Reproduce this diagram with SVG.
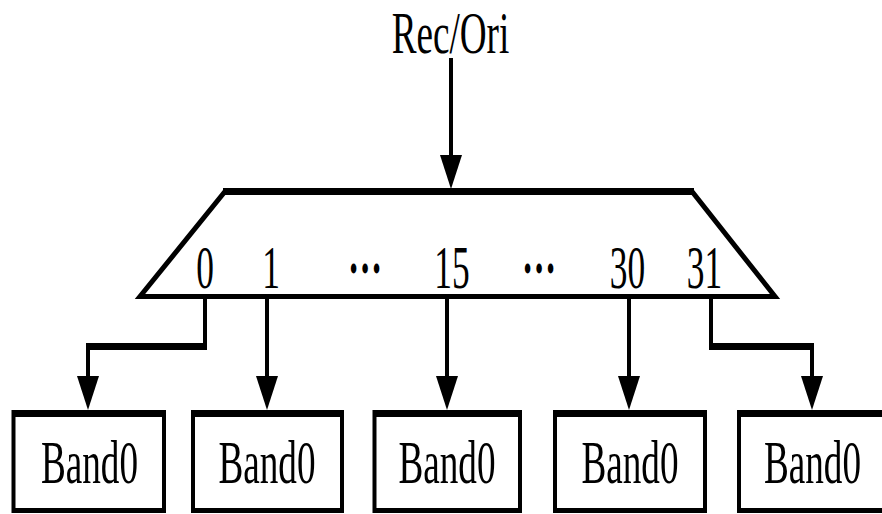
<svg xmlns="http://www.w3.org/2000/svg" width="882" height="514" viewBox="0 0 882 514">
  <style>
    .lbl { font-family: "Liberation Serif", "Times New Roman", serif; fill: #000; text-anchor: middle; }
    .big { font-size: 62px; }
    .head { font-size: 59px; }
    .num { font-size: 61px; }
    .dots { font-size: 62px; font-weight: bold; }
    .wire { fill: none; stroke: #000; stroke-width: 4; stroke-linejoin: miter; }
    .bus { fill: none; stroke: #000; stroke-width: 7; }
    .edge { fill: #000; }
    .face { fill: #fff; }
  </style>
  <defs>
    <marker id="ah" viewBox="0 -11 34 22" refX="0" refY="0" markerWidth="34" markerHeight="22" markerUnits="userSpaceOnUse" orient="auto">
      <path d="M0,-11 L34,0 L0,11 Z" fill="#000"/>
    </marker>
  </defs>

  <!-- input label -->
  <g id="input">
    <text class="lbl head" transform="translate(450.5,53) scale(0.63,1)">Rec/Ori</text>
  </g>

  <!-- demultiplexer with its 32 output ports -->
  <g id="demux">
    <polygon points="225,191.5 692,191.5 775,296.5 140,296.5" fill="#fff" stroke="#000" stroke-width="5"/>
    <line x1="223" y1="191.5" x2="694" y2="191.5" stroke="#000" stroke-width="7"/>
    <text class="lbl num" transform="translate(205,288) scale(0.58,1)">0</text>
    <text class="lbl num" transform="translate(271,288) scale(0.58,1)">1</text>
    <text class="lbl dots" transform="translate(365,273) scale(0.55,1)">…</text>
    <text class="lbl num" transform="translate(452,288) scale(0.58,1)">15</text>
    <text class="lbl dots" transform="translate(539,273) scale(0.55,1)">…</text>
    <text class="lbl num" transform="translate(627.5,288) scale(0.58,1)">30</text>
    <text class="lbl num" transform="translate(704.5,288) scale(0.58,1)">31</text>
  </g>

  <!-- band blocks: black frame with white face -->
  <g id="band-a">
    <rect class="edge" x="11.5" y="410" width="154.5" height="103"/>
    <rect class="face" x="15.5" y="417" width="146.5" height="91"/>
    <text class="lbl big" transform="translate(89.5,483) scale(0.6,1)">Band0</text>
  </g>
  <g id="band-b">
    <rect class="edge" x="191" y="410" width="153" height="103"/>
    <rect class="face" x="195" y="417" width="145" height="91"/>
    <text class="lbl big" transform="translate(267,483) scale(0.6,1)">Band0</text>
  </g>
  <g id="band-c">
    <rect class="edge" x="372.5" y="410" width="149.5" height="103"/>
    <rect class="face" x="376.5" y="417" width="141.5" height="91"/>
    <text class="lbl big" transform="translate(447,483) scale(0.6,1)">Band0</text>
  </g>
  <g id="band-d">
    <rect class="edge" x="553" y="410" width="154" height="103"/>
    <rect class="face" x="557" y="417" width="146" height="91"/>
    <text class="lbl big" transform="translate(630,483) scale(0.6,1)">Band0</text>
  </g>
  <g id="band-e">
    <rect class="edge" x="737" y="410" width="154" height="103"/>
    <rect class="face" x="741" y="417" width="146" height="91"/>
    <text class="lbl big" transform="translate(812.5,483) scale(0.6,1)">Band0</text>
  </g>

  <!-- connectors -->
  <g id="connectors">
    <path class="wire" d="M451,58 V155" marker-end="url(#ah)"/>
    <path class="wire" d="M205,298 V347 H88 V376" marker-end="url(#ah)"/>
    <path class="bus" d="M86,346.5 H207"/>
    <path class="wire" d="M267,298 V376" marker-end="url(#ah)"/>
    <path class="wire" d="M447,298 V376" marker-end="url(#ah)"/>
    <path class="wire" d="M629,298 V376" marker-end="url(#ah)"/>
    <path class="wire" d="M711,298 V347 H812 V376" marker-end="url(#ah)"/>
    <path class="bus" d="M709,346.5 H814"/>
  </g>
</svg>
